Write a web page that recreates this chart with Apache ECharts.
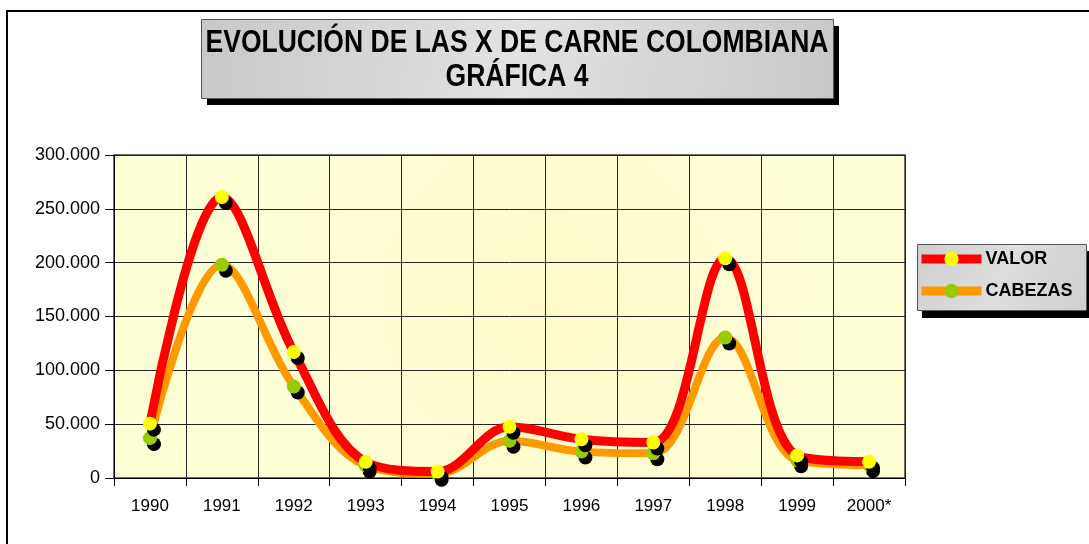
<!DOCTYPE html>
<html>
<head>
<meta charset="utf-8">
<script src="https://cdn.jsdelivr.net/npm/echarts@6/dist/echarts.min.js"></script>
<style>
html,body{margin:0;padding:0;background:#fff;}
#chart{width:1089px;height:544px;}
</style>
</head>
<body>
<div id="chart"></div>
<script>
const years = ['1990','1991','1992','1993','1994','1995','1996','1997','1998','1999','2000*'];
const valor = [50500, 261000, 117000, 15000, 6000, 47500, 36000, 33000, 204000, 21000, 15000];
const cabezas = [37000, 198000, 85000, 11500, 4000, 34500, 24500, 23000, 130500, 16500, 12000];
const titleLines = ['EVOLUCIÓN DE LAS X DE CARNE COLOMBIANA', 'GRÁFICA 4'];
const seriesNames = ['VALOR', 'CABEZAS'];

const FONT = '"Liberation Sans", Arial, sans-serif';
function fmt(v){ return String(v).replace(/\B(?=(\d{3})+(?!\d))/g, '.'); }

const chart = echarts.init(document.getElementById('chart'), null, {renderer:'canvas'});
const markerShadow = {shadowColor:'#000', shadowBlur:0, shadowOffsetX:4, shadowOffsetY:6};

chart.setOption({
  animation:false,
  backgroundColor:'#ffffff',
  grid:{left:114, right:184, top:155, bottom:66, show:true,
    backgroundColor:{type:'radial', x:0.55, y:0.45, r:0.8,
      colorStops:[{offset:0,color:'#fffac8'},{offset:1,color:'#ffffd6'}]},
    borderColor:'#404040', borderWidth:1.5},
  xAxis:{type:'category', data:years, boundaryGap:true,
    axisLine:{show:true, lineStyle:{color:'#000', width:1}},
    axisTick:{show:true, length:8, lineStyle:{color:'#000'}},
    splitLine:{show:true, lineStyle:{color:'#222', width:1}},
    axisLabel:{color:'#000', fontFamily:FONT, fontSize:17, margin:20}},
  yAxis:{type:'value', min:0, max:300000, interval:50000,
    axisLine:{show:true, lineStyle:{color:'#000', width:1}},
    axisTick:{show:true, length:9, lineStyle:{color:'#000'}},
    splitLine:{show:true, lineStyle:{color:'#222', width:1}},
    axisLabel:{color:'#000', fontFamily:FONT, fontSize:18, margin:14, formatter:fmt}},
  legend:{left:913, top:250, orient:'vertical', padding:[0,6,0,4], itemGap:14,
    itemWidth:60, itemHeight:18,
    data:seriesNames,
    lineStyle:{width:9},
    textStyle:{color:'#000', fontFamily:FONT, fontSize:18, fontWeight:'bold', padding:[0,0,0,-1]}},
  graphic:[
    {type:'rect', z:-10, shape:{x:7, y:11, width:1200, height:700}, style:{fill:'none', stroke:'#000', lineWidth:2}},
    {type:'rect', z:1, shape:{x:207, y:26, width:632, height:79}, style:{fill:'#000'}},
    {type:'rect', z:2, shape:{x:201.5, y:19.5, width:632, height:79},
      style:{fill:{type:'linear', x:0, y:0, x2:1, y2:1, colorStops:[{offset:0,color:'#c8c8c8'},{offset:0.5,color:'#e2e2e2'},{offset:1,color:'#c8c8c8'}]}, stroke:'#555', lineWidth:1}},
    {type:'text', z:3, x:517, y:43, scaleX:0.855,
      style:{text:titleLines[0], fill:'#000', font:'bold 31px "Liberation Sans", Arial, sans-serif', textAlign:'center', textVerticalAlign:'middle'}},
    {type:'text', z:3, x:517, y:77, scaleX:0.855,
      style:{text:titleLines[1], fill:'#000', font:'bold 31px "Liberation Sans", Arial, sans-serif', textAlign:'center', textVerticalAlign:'middle'}},
    {type:'rect', z:1, shape:{x:922, y:251, width:170, height:67}, style:{fill:'#000'}},
    {type:'rect', z:2, shape:{x:917.5, y:244.5, width:169, height:66},
      style:{fill:{type:'linear', x:0, y:0, x2:1, y2:1, colorStops:[{offset:0,color:'#cfcfcf'},{offset:0.5,color:'#dedede'},{offset:1,color:'#cfcfcf'}]}, stroke:'#555', lineWidth:1}}
  ],
  series:[
    {name:'CABEZAS', type:'line', data:cabezas, smooth:0.35, z:2,
      symbol:'circle', symbolSize:14, showAllSymbol:true,
      lineStyle:{color:'#ff9900', width:8},
      itemStyle:Object.assign({color:'#99cc00'}, markerShadow)},
    {name:'VALOR', type:'line', data:valor, smooth:0.35, z:3,
      symbol:'circle', symbolSize:14, showAllSymbol:true,
      lineStyle:{color:'#ff0000', width:9},
      itemStyle:Object.assign({color:'#ffff00'}, markerShadow)}
  ]
});
</script>
</body>
</html>
